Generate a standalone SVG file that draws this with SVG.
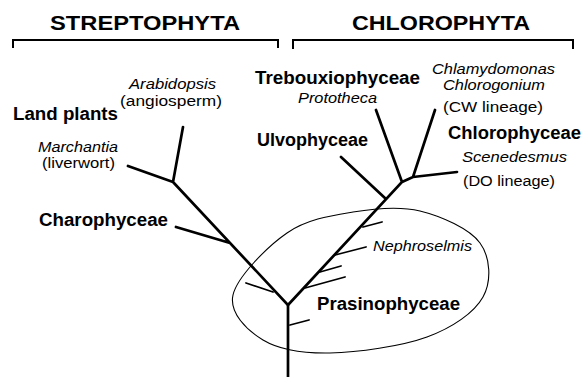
<svg xmlns="http://www.w3.org/2000/svg" width="582" height="377" viewBox="0 0 582 377">
<style>
.h{font-family:"Liberation Sans",Arial,sans-serif;font-weight:bold;font-size:21px;fill:#000}
.b{font-family:"Liberation Sans",Arial,sans-serif;font-weight:bold;font-size:17.5px;fill:#000}
.i{font-family:"Liberation Sans",Arial,sans-serif;font-style:italic;font-size:14px;fill:#000}
.r{font-family:"Liberation Sans",Arial,sans-serif;font-size:14px;fill:#000}
.br{fill:none;stroke:#000;stroke-width:2}
.e{stroke:#000;stroke-width:2.7;stroke-linecap:round;fill:none}
.t{stroke:#000;stroke-width:1.8;stroke-linecap:round;fill:none}
.ell{fill:none;stroke:#000;stroke-width:1.1}
</style>
<rect width="582" height="377" fill="#fff"/>
<g id="streptophyta">
<text class="h" x="50" y="30" textLength="190" lengthAdjust="spacingAndGlyphs">STREPTOPHYTA</text>
<path class="br" d="M13,48 V40 H278 V48"/>
</g>
<g id="chlorophyta">
<text class="h" x="352" y="30" textLength="178" lengthAdjust="spacingAndGlyphs">CHLOROPHYTA</text>
<path class="br" d="M293,49 V40 H573 V49"/>
</g>
<g id="prasinophyceae-group">
<path class="ell" d="M233,295 C229,312.8 246.8,330.3 263,340 C279.2,349.7 302.7,353.5 330,353 C357.3,352.5 401.5,346.3 427,337 C452.5,327.7 474.2,312.7 483,297 C491.8,281.3 490.5,257.3 480,243 C469.5,228.7 441.2,216.2 420,211 C398.8,205.8 375.2,208.3 353,212 C330.8,215.7 307,219.2 287,233 C267,246.8 237,277.2 233,295 Z"/>
</g>
<g id="connectors">
<path class="e" d="M288,377 V305 L173,182 L183,127 M173,182 L128,166 M230,243 L176,227"/>
<path class="e" d="M288,305 L402,182 L376,110 M402,182 L413,177 L435,110 M413,177 L457,172 M386,199 L341,157"/>
<path class="t" d="M363,227 L382,222 M335,255 L366,247 M320,272 L341,266 M305,288 L345,277 M273,292 L246,283 M290,325 L309,320"/>
</g>
<g id="land-plants"><text class="b" x="13" y="120" textLength="105" lengthAdjust="spacingAndGlyphs">Land plants</text></g>
<g id="arabidopsis">
<text class="i" x="129" y="89" textLength="87" lengthAdjust="spacingAndGlyphs">Arabidopsis</text>
<text class="r" x="120" y="106" textLength="102" lengthAdjust="spacingAndGlyphs">(angiosperm)</text>
</g>
<g id="marchantia">
<text class="i" x="38" y="152" textLength="80" lengthAdjust="spacingAndGlyphs">Marchantia</text>
<text class="r" x="42" y="168" textLength="73" lengthAdjust="spacingAndGlyphs">(liverwort)</text>
</g>
<g id="charophyceae"><text class="b" x="39" y="226" textLength="129" lengthAdjust="spacingAndGlyphs">Charophyceae</text></g>
<g id="trebouxiophyceae">
<text class="b" x="255" y="84" textLength="165" lengthAdjust="spacingAndGlyphs">Trebouxiophyceae</text>
<text class="i" x="298" y="103" textLength="79" lengthAdjust="spacingAndGlyphs">Prototheca</text>
</g>
<g id="ulvophyceae"><text class="b" x="257" y="146" textLength="111" lengthAdjust="spacingAndGlyphs">Ulvophyceae</text></g>
<g id="cw-lineage">
<text class="i" x="432" y="74" textLength="123" lengthAdjust="spacingAndGlyphs">Chlamydomonas</text>
<text class="i" x="443" y="90" textLength="102" lengthAdjust="spacingAndGlyphs">Chlorogonium</text>
<text class="r" x="443" y="112" textLength="100" lengthAdjust="spacingAndGlyphs">(CW lineage)</text>
</g>
<g id="chlorophyceae"><text class="b" x="448" y="139" textLength="133" lengthAdjust="spacingAndGlyphs">Chlorophyceae</text></g>
<g id="do-lineage">
<text class="i" x="462" y="162" textLength="105" lengthAdjust="spacingAndGlyphs">Scenedesmus</text>
<text class="r" x="463" y="186" textLength="92" lengthAdjust="spacingAndGlyphs">(DO lineage)</text>
</g>
<g id="nephroselmis"><text class="i" x="373" y="251" textLength="99" lengthAdjust="spacingAndGlyphs">Nephroselmis</text></g>
<g id="prasinophyceae"><text class="b" x="317" y="310" textLength="143" lengthAdjust="spacingAndGlyphs">Prasinophyceae</text></g>
</svg>
